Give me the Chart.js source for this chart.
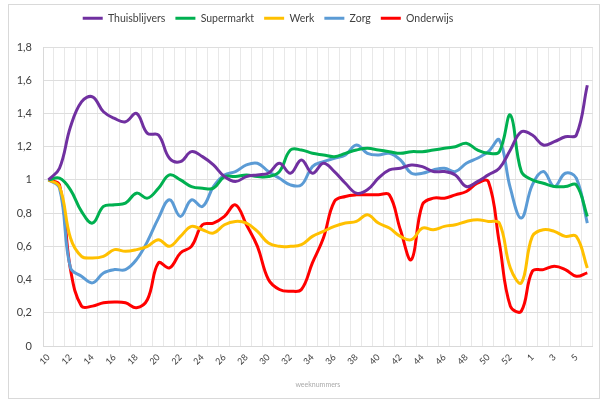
<!DOCTYPE html>
<html>
<head>
<meta charset="utf-8">
<script src="https://cdn.jsdelivr.net/npm/chart.js@4/dist/chart.umd.min.js"></script>
<style>
html,body{margin:0;padding:0;background:#fff;}
#wrap{position:relative;width:601px;height:401px;}
</style>
</head>
<body>
<div id="wrap"><canvas id="c" width="601" height="401"></canvas></div>
<script>
// categories: week numbers (10..53, then 1..6)
const weeks = ['10','11','12','13','14','15','16','17','18','19','20','21','22','23','24','25','26','27','28','29','30','31','32','33','34','35','36','37','38','39','40','41','42','43','44','45','46','47','48','49','50','51','52','53','1','2','3','4','5','6'];
const seriesNames = ['Thuisblijvers','Supermarkt','Werk','Zorg','Onderwijs'];
const yTicks = [0,0.2,0.4,0.6,0.8,1,1.2,1.4,1.6,1.8];

const thuisblijvers = [1.00,1.07,1.32,1.47,1.50,1.41,1.37,1.35,1.40,1.28,1.27,1.13,1.11,1.17,1.14,1.09,1.02,0.99,1.02,1.03,1.04,1.10,1.04,1.12,1.04,1.10,1.05,0.98,0.92,0.94,1.01,1.06,1.07,1.09,1.08,1.05,1.05,1.03,0.96,0.99,1.03,1.07,1.18,1.29,1.27,1.21,1.23,1.26,1.27,1.57];
const supermarkt = [1.00,1.01,0.94,0.81,0.74,0.84,0.85,0.86,0.92,0.89,0.95,1.03,1.00,0.96,0.95,0.95,1.02,1.02,1.03,1.02,1.02,1.05,1.18,1.18,1.16,1.15,1.14,1.16,1.18,1.19,1.18,1.17,1.16,1.17,1.17,1.18,1.19,1.20,1.22,1.18,1.16,1.17,1.39,1.05,1.00,0.98,0.96,0.96,0.97,0.78];
const werk = [1.00,0.96,0.65,0.54,0.53,0.54,0.58,0.57,0.58,0.60,0.64,0.60,0.66,0.72,0.70,0.68,0.73,0.75,0.74,0.69,0.62,0.60,0.60,0.61,0.66,0.69,0.72,0.74,0.75,0.79,0.74,0.71,0.66,0.64,0.71,0.70,0.72,0.73,0.75,0.76,0.75,0.74,0.47,0.38,0.66,0.70,0.69,0.66,0.66,0.47];
const zorg = [1.00,0.95,0.47,0.42,0.38,0.44,0.46,0.46,0.52,0.63,0.77,0.88,0.78,0.88,0.84,0.96,1.03,1.05,1.09,1.10,1.05,1.01,0.97,0.97,1.08,1.11,1.13,1.15,1.21,1.16,1.15,1.16,1.12,1.04,1.04,1.06,1.07,1.05,1.10,1.13,1.17,1.24,0.95,0.77,0.97,1.05,0.96,1.04,1.01,0.74];
const onderwijs = [1.00,0.97,0.46,0.24,0.24,0.26,0.265,0.26,0.23,0.28,0.50,0.47,0.56,0.60,0.73,0.74,0.78,0.85,0.73,0.60,0.40,0.34,0.33,0.34,0.50,0.65,0.87,0.90,0.91,0.91,0.91,0.91,0.70,0.52,0.85,0.89,0.89,0.91,0.93,0.98,0.99,0.62,0.24,0.21,0.45,0.46,0.48,0.46,0.42,0.44];

const colors = ['#7030A0','#00B050','#FFC000','#5B9BD5','#FF0000'];
const values = [thuisblijvers, supermarkt, werk, zorg, onderwijs];

const datasets = seriesNames.map((n,i)=>({
  label:n, data:values[i], borderColor:colors[i], backgroundColor:colors[i],
  borderWidth:3, pointRadius:0, tension:0.4, fill:false
}));

const frame = {
  id:'frame',
  beforeInit(chart){
    const orig = chart.legend.fit;
    chart.legend.fit = function(){ orig.call(this); this.height = 44; };
  },
  afterLayout(chart){ chart.legend.left -= 60; },
  beforeDraw(chart){
    const ctx = chart.ctx;
    ctx.save();
    ctx.fillStyle = '#fff';
    ctx.fillRect(0,0,chart.width,chart.height);
    ctx.strokeStyle = '#d9d9d9';
    ctx.lineWidth = 1;
    ctx.strokeRect(8.5,4.5,591,394);
    ctx.restore();
  }
};

new Chart(document.getElementById('c'), {
  type:'line',
  data:{labels:weeks, datasets},
  plugins:[frame],
  options:{
    responsive:false, animation:false,
    layout:{padding:{top:3,left:0,right:5,bottom:0}},
    plugins:{
      tooltip:{enabled:false},
      legend:{
        position:'top',
        labels:{
          font:{family:'Lato', size:10.5}, color:'#404040',
          boxWidth:20, boxHeight:3, padding:10,
          generateLabels(chart){
            return Chart.defaults.plugins.legend.labels.generateLabels(chart).map(l=>({...l, lineWidth:0, fillStyle:l.strokeStyle}));
          }
        }
      }
    },
    scales:{
      x:{
        type:'category', offset:true,
        grid:{offset:true, color:'#e8e8e8', drawTicks:false},
        border:{color:'#d9d9d9'},
        ticks:{
          autoSkip:false, minRotation:45, maxRotation:45, padding:6,
          font:{family:'Lato', size:9}, color:'#404040',
          callback(v,i){ return i%2===0 ? weeks[i] : ''; }
        },
        title:{display:true, text:'weeknummers', color:'#aaaaaa', font:{family:'Lato', size:7}, padding:{top:0,bottom:12}},
        afterFit(s){ s.height = 55; }
      },
      y:{
        min:0, max:1.8,
        grid:{color:'#dedede', drawTicks:false},
        border:{color:'#d9d9d9'},
        ticks:{
          stepSize:0.2, padding:11,
          font:{family:'Lato', size:11}, color:'#404040',
          callback(v){ const t = yTicks.find(x=>Math.abs(x-v)<1e-6); return t===undefined ? '' : String(t).replace('.',','); }
        },
        afterFit(s){ s.width = 43; }
      }
    }
  }
});
</script>
</body>
</html>
